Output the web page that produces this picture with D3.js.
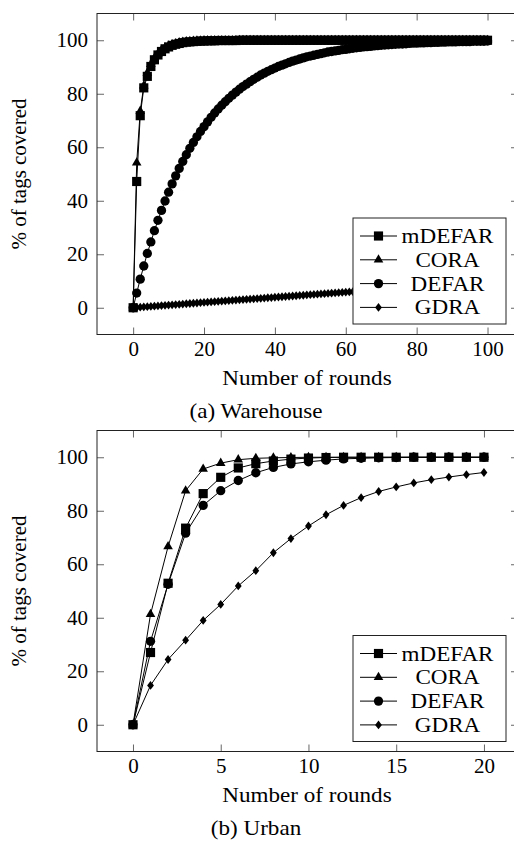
<!DOCTYPE html>
<html>
<head>
<meta charset="utf-8">
<script src="https://cdn.jsdelivr.net/npm/d3@7"></script>
<style>
  body { margin: 0; background: #fff; }
  svg { display: block; }
  svg text { font-family: "Liberation Serif", "DejaVu Serif", "Times New Roman", serif; fill: #000; }
</style>
</head>
<body>
<script>
const svgWidth = 514;
const svgHeight = 842;

const seriesNames = ["mDEFAR", "CORA", "DEFAR", "GDRA"];
const yTicks = [0, 20, 40, 60, 80, 100];

// (a) Warehouse, one value per round 0..100
const warehouseRounds = d3.range(0, 101);
const warehouseXTicks = [0, 20, 40, 60, 80, 100];
const warehouseMDEFAR = [
  0, 47.2, 71.8, 82.2, 86.5, 90.2, 92.7, 94.5, 95.8, 96.8,
  97.5, 98.1, 98.5, 98.8, 99.1, 99.3, 99.4, 99.5, 99.6, 99.7,
  99.7, 99.8, 99.8, 99.8, 99.9, 99.9, 99.9, 99.9, 99.9, 99.9,
  100, 100, 100, 100, 100, 100, 100, 100, 100, 100,
  100, 100, 100, 100, 100, 100, 100, 100, 100, 100,
  100, 100, 100, 100, 100, 100, 100, 100, 100, 100,
  100, 100, 100, 100, 100, 100, 100, 100, 100, 100,
  100, 100, 100, 100, 100, 100, 100, 100, 100, 100,
  100, 100, 100, 100, 100, 100, 100, 100, 100, 100,
  100, 100, 100, 100, 100, 100, 100, 100, 100, 100,
  100
];
const warehouseCORA = [
  0, 54.2, 73.5, 83.0, 87.8, 91.0, 93.3, 95.0, 96.3, 97.2,
  97.9, 98.4, 98.8, 99.1, 99.3, 99.5, 99.6, 99.7, 99.8, 99.8,
  99.9, 99.9, 99.9, 99.9, 99.9, 99.9, 99.9, 99.9, 99.9, 99.9,
  100, 100, 100, 100, 100, 100, 100, 100, 100, 100,
  100, 100, 100, 100, 100, 100, 100, 100, 100, 100,
  100, 100, 100, 100, 100, 100, 100, 100, 100, 100,
  100, 100, 100, 100, 100, 100, 100, 100, 100, 100,
  100, 100, 100, 100, 100, 100, 100, 100, 100, 100,
  100, 100, 100, 100, 100, 100, 100, 100, 100, 100,
  100, 100, 100, 100, 100, 100, 100, 100, 100, 100,
  100
];
const warehouseDEFAR = [
  0, 5.5, 10.7, 15.6, 20.3, 24.6, 28.8, 32.7, 36.4, 39.9,
  43.2, 46.3, 49.3, 52.1, 54.7, 57.2, 59.6, 61.8, 63.9, 65.9,
  67.7, 69.5, 71.2, 72.8, 74.3, 75.7, 77.0, 78.3, 79.5, 80.6,
  81.7, 82.7, 83.6, 84.5, 85.4, 86.2, 87.0, 87.7, 88.4, 89.0,
  89.6, 90.2, 90.7, 91.2, 91.7, 92.2, 92.6, 93.0, 93.4, 93.8,
  94.1, 94.4, 94.7, 95.0, 95.3, 95.6, 95.8, 96.0, 96.2, 96.5,
  96.6, 96.8, 97.0, 97.2, 97.3, 97.5, 97.6, 97.7, 97.9, 98.0,
  98.1, 98.2, 98.3, 98.4, 98.5, 98.6, 98.6, 98.7, 98.8, 98.9,
  98.9, 99.0, 99.0, 99.1, 99.1, 99.2, 99.2, 99.3, 99.3, 99.4,
  99.4, 99.4, 99.5, 99.5, 99.5, 99.5, 99.6, 99.6, 99.6, 99.6,
  99.7
];
const warehouseGDRA = [
  0, 0.10, 0.20, 0.30, 0.40, 0.50, 0.60, 0.70, 0.80, 0.90,
  0.99, 1.09, 1.19, 1.29, 1.39, 1.49, 1.59, 1.69, 1.78, 1.88,
  1.98, 2.08, 2.18, 2.27, 2.37, 2.47, 2.57, 2.66, 2.76, 2.86,
  2.96, 3.05, 3.15, 3.25, 3.34, 3.44, 3.54, 3.63, 3.73, 3.82,
  3.92, 4.02, 4.11, 4.21, 4.30, 4.40, 4.49, 4.59, 4.68, 4.78,
  4.88, 4.97, 5.06, 5.16, 5.25, 5.35, 5.44, 5.54, 5.63, 5.73,
  5.82, 5.91, 6.01, 6.10, 6.20, 6.29, 6.38, 6.48, 6.57, 6.66,
  6.76, 6.85, 6.94, 7.03, 7.13, 7.22, 7.31, 7.40, 7.50, 7.59,
  7.68, 7.77, 7.86, 7.96, 8.05, 8.14, 8.23, 8.32, 8.41, 8.50,
  8.60, 8.69, 8.78, 8.87, 8.96, 9.05, 9.14, 9.23, 9.32, 9.41,
  9.50
];

// (b) Urban, rounds 0..20
const urbanRounds = [0, 1, 2, 3, 4, 5, 6, 7, 8, 9, 10, 11, 12, 13, 14, 15, 16, 17, 18, 19, 20];
const urbanXTicks = [0, 5, 10, 15, 20];
const urbanMDEFAR = [0, 27.0, 52.9, 73.5, 86.4, 92.5, 96.0, 97.6, 98.6, 99.3, 99.7, 99.9, 100, 100, 100, 100, 100, 100, 100, 100, 100];
const urbanCORA = [0, 41.3, 66.6, 87.5, 95.6, 97.8, 99.1, 99.6, 99.8, 99.9, 100, 100, 100, 100, 100, 100, 100, 100, 100, 100, 100];
const urbanDEFAR = [0, 31.2, 52.5, 71.6, 82.0, 87.5, 91.3, 94.2, 96.2, 97.5, 98.3, 98.9, 99.4, 99.6, 99.8, 99.9, 100, 100, 100, 100, 100];
const urbanGDRA = [0, 14.7, 24.4, 31.6, 39.0, 45.0, 51.9, 57.6, 64.3, 69.6, 74.3, 78.5, 82.0, 84.9, 87.2, 88.9, 90.4, 91.6, 92.6, 93.5, 94.3];

// marker shapes, keyed by series name
const markerPath = {
  mDEFAR: d3.symbol(d3.symbolSquare, 84)(),
  CORA: d3.symbol(d3.symbolTriangle, 40)(),
  DEFAR: d3.symbol(d3.symbolCircle, 68)(),
  GDRA: "M0,-4.4L3.4,0L0,4.4L-3.4,0Z"
};
// draw order: mDEFAR last so its squares sit on top
const drawOrder = ["GDRA", "DEFAR", "CORA", "mDEFAR"];

const svg = d3.select("body").append("svg")
  .attr("width", svgWidth)
  .attr("height", svgHeight);

function drawPanel(p) {
  const x = d3.scaleLinear().domain(p.xDomain).range([p.left, p.right]);
  const y = d3.scaleLinear().domain([-10, 110]).range([p.bottom, p.top]);
  const g = svg.append("g");

  // ticks on all four sides, pointing inward
  const axes = [
    [d3.axisBottom(x).tickValues(p.xTicks).tickSize(-7).tickPadding(7), `translate(0,${p.bottom})`],
    [d3.axisTop(x).tickValues(p.xTicks).tickSize(-7).tickFormat(""), `translate(0,${p.top})`],
    [d3.axisLeft(y).tickValues(yTicks).tickSize(-7).tickPadding(9), `translate(${p.left},0)`],
    [d3.axisRight(y).tickValues(yTicks).tickSize(-7).tickFormat(""), `translate(${p.right},0)`]
  ];
  axes.forEach(([axis, tr]) => {
    const a = g.append("g").attr("transform", tr).call(axis);
    a.select(".domain").remove();
    a.attr("font-size", 21);
    a.selectAll("line").attr("stroke", "#666").attr("stroke-width", 1);
  });

  g.append("rect")
    .attr("x", p.left).attr("y", p.top)
    .attr("width", p.right - p.left).attr("height", p.bottom - p.top)
    .attr("fill", "none").attr("stroke", "#222").attr("stroke-width", 1);

  const line = d3.line()
    .x((d, i) => x(p.rounds[i]))
    .y(d => y(d));

  drawOrder.forEach(name => {
    const vals = p.series[name];
    g.append("path")
      .datum(vals)
      .attr("d", line)
      .attr("fill", "none")
      .attr("stroke", "#000")
      .attr("stroke-width", 1);
    g.append("g").selectAll("path")
      .data(vals)
      .join("path")
      .attr("d", markerPath[name])
      .attr("transform", (d, i) => `translate(${x(p.rounds[i])},${y(d)})`)
      .attr("fill", "#000");
  });

  // legend, south east
  const lg = g.append("g").attr("transform", `translate(${p.legendX},${p.legendY})`);
  lg.append("rect")
    .attr("width", 153).attr("height", 106)
    .attr("fill", "#fff").attr("stroke", "#222").attr("stroke-width", 1);
  seriesNames.forEach((name, i) => {
    const ry = 18 + i * 23.8;
    lg.append("line")
      .attr("x1", 7).attr("x2", 44).attr("y1", ry).attr("y2", ry)
      .attr("stroke", "#000").attr("stroke-width", 1);
    lg.append("path")
      .attr("d", markerPath[name])
      .attr("transform", `translate(25.5,${ry})`)
      .attr("fill", "#000");
    lg.append("text")
      .attr("transform", `translate(94.5,${ry + 7}) scale(1.1,1)`)
      .attr("text-anchor", "middle")
      .attr("font-size", 21)
      .text(name);
  });

  g.append("text")
    .attr("transform", `translate(${(p.left + 518) / 2 - 0.5},${p.bottom + 50}) scale(1.1,1)`)
    .attr("text-anchor", "middle")
    .attr("font-size", 21)
    .text("Number of rounds");

  g.append("text")
    .attr("transform", `translate(26,${(p.top + p.bottom) / 2}) rotate(-90)`)
    .attr("text-anchor", "middle")
    .attr("font-size", 21)
    .text("% of tags covered");

  g.append("text")
    .attr("transform", `translate(256,${p.captionY}) scale(1.1,1)`)
    .attr("text-anchor", "middle")
    .attr("font-size", 21)
    .text(p.caption);
}

drawPanel({
  rounds: warehouseRounds,
  series: { mDEFAR: warehouseMDEFAR, CORA: warehouseCORA, DEFAR: warehouseDEFAR, GDRA: warehouseGDRA },
  xDomain: [-10.2, 108.6],
  xTicks: warehouseXTicks,
  left: 97, right: 518, top: 13.5, bottom: 334.5,
  legendX: 353, legendY: 218,
  captionY: 418,
  caption: "(a) Warehouse"
});

drawPanel({
  rounds: urbanRounds,
  series: { mDEFAR: urbanMDEFAR, CORA: urbanCORA, DEFAR: urbanDEFAR, GDRA: urbanGDRA },
  xDomain: [-2.05, 21.94],
  xTicks: urbanXTicks,
  left: 97, right: 518, top: 430.5, bottom: 751.5,
  legendX: 353, legendY: 635.5,
  captionY: 835,
  caption: "(b) Urban"
});
</script>
</body>
</html>
